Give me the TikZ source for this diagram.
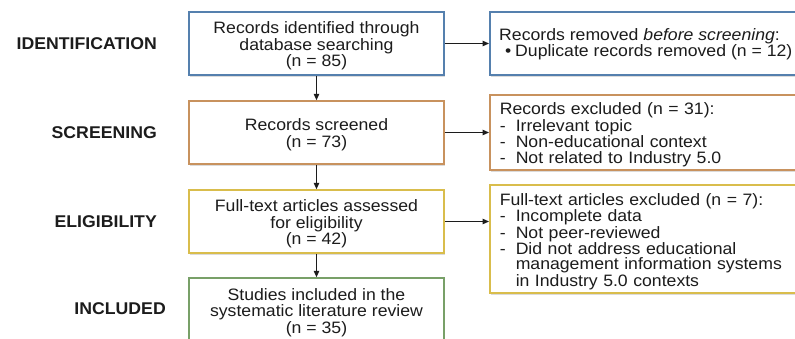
\documentclass[tikz,border=0pt]{standalone}
\usepackage{fontspec}
\setmainfont{Liberation Sans}[FakeStretch=1.07]
\newfontfamily\labelfont{Liberation Sans}[FakeStretch=1.04]
\usetikzlibrary{shadows,arrows.meta}
\definecolor{bblue}{HTML}{5580AE}
\definecolor{borange}{HTML}{C8925E}
\definecolor{byellow}{HTML}{D9BD4C}
\definecolor{bgreen}{HTML}{78A068}
\definecolor{ink}{HTML}{1C1C1C}
\newcommand\topstrut{\rule{0pt}{17pt}}
\begin{document}
\begin{tikzpicture}[x=1pt,y=-1pt,
  box/.style={draw, line width=1.5pt, fill=white,
    drop shadow={opacity=0.28, shadow xshift=1.2pt, shadow yshift=-2pt},
    inner sep=0pt, align=center, text=ink,
    font=\fontsize{16.5}{16.6}\selectfont},
  lbox/.style={box, minimum width=255pt},
  rbox/.style={box, align=left, text width=296pt, inner xsep=10pt, anchor=west},
  rtext/.style={align=left, text=ink, inner sep=0pt, font=\fontsize{16.5}{16.3}\selectfont},
  stage/.style={anchor=east, text=ink, inner sep=0pt, font=\labelfont\bfseries\fontsize{17}{18}\selectfont},
  arr/.style={draw=ink, line width=1.1pt, -{Triangle[length=6.5pt,width=5.5pt]}}
]
\clip (0,0) rectangle (795,338);
\fill[white] (0,0) rectangle (795,338);

% stage labels
\node[stage] (lid) at (157,44) {IDENTIFICATION};
\node[stage] (lsc) at (157,132.5) {SCREENING};
\node[stage] (lel) at (157,222) {ELIGIBILITY};
\node[stage] (lin) at (166,309) {INCLUDED};

% left column
\node[lbox, draw=bblue, minimum height=63pt] (id) at (316.5,43.5)
  {\topstrut Records identified through\\database searching\\(n = 85)};
\node[lbox, draw=borange, minimum height=63pt] (sc) at (316.5,132.5)
  {\topstrut Records screened\\(n = 73)};
\node[lbox, draw=byellow, minimum height=63pt] (el) at (316.5,221.5)
  {\topstrut Full-text articles assessed\\for eligibility\\(n = 42)};
\node[lbox, draw=bgreen, minimum height=64pt] (in) at (316.5,310)
  {\topstrut Studies included in the\\systematic literature review\\(n = 35)};

% right column
\node[box, draw=bblue, minimum width=316pt, minimum height=63pt, anchor=west] (rm) at (489,43.5) {};
\node[rtext, anchor=north west] (rmt) at (499,28)
  {Records removed \textit{before screening}:\\
   \makebox[16pt][l]{\hspace{6pt}•}Duplicate records removed (n = 12)};

\node[rbox, draw=borange, minimum height=75pt, font=\fontsize{16.5}{16.4}\selectfont] (ex) at (489,132.5)
  {\topstrut Records excluded (n = 31):\\
   \makebox[16pt][l]{-}Irrelevant topic\\
   \makebox[16pt][l]{-}Non-educational context\\
   \makebox[16pt][l]{-}Not related to Industry 5.0};

\node[rbox, draw=byellow, minimum height=108pt, font=\fontsize{16.5}{15.3}\selectfont] (fx) at (489,239)
  {\topstrut Full-text articles excluded (n = 7):\\
   \makebox[16pt][l]{-}Incomplete data\\
   \makebox[16pt][l]{-}Not peer-reviewed\\
   \makebox[16pt][l]{-}Did not address educational\\
   \makebox[16pt][l]{}management information systems\\
   \makebox[16pt][l]{}in Industry 5.0 contexts};

% connectors
\draw[arr] (id) -- (sc);
\draw[arr] (sc) -- (el);
\draw[arr] (el) -- (in);
\draw[arr] (id) -- (rm);
\draw[arr] (sc) -- (ex);
\draw[arr] (el.east) -- (el.east -| fx.west);
\end{tikzpicture}
\end{document}
